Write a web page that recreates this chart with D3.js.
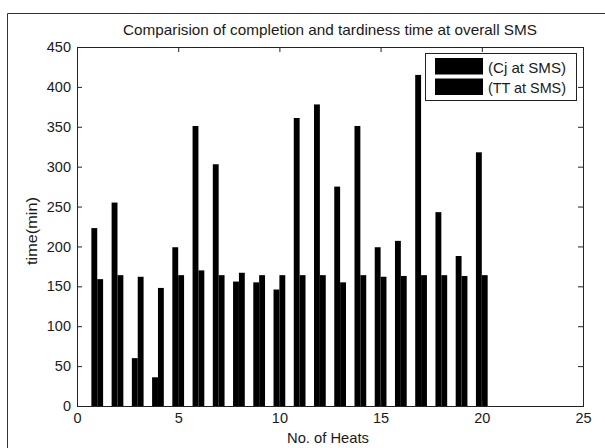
<!DOCTYPE html>
<html>
<head>
<meta charset="utf-8">
<script src="https://d3js.org/d3.v7.min.js"></script>
<style>
  body { margin: 0; background: #fff; }
  text { font-family: "Liberation Sans", Arial, sans-serif; fill: #1a1a1a; }
</style>
</head>
<body>
<div class="chart"></div>
<script>
// width, height
const w = 605;
const h = 448;

// plot box
const pLeft = 77, pRight = 583, pTop = 47, pBottom = 406;
const fs = "14.5px";

// data
const heats = [1, 2, 3, 4, 5, 6, 7, 8, 9, 10, 11, 12, 13, 14, 15, 16, 17, 18, 19, 20];
const cj = [223, 255, 60, 36, 199, 351, 303, 156, 155, 146, 361, 378, 275, 351, 199, 207, 415, 243, 188, 318];
const tt = [159, 164, 162, 148, 164, 170, 164, 167, 164, 164, 164, 164, 155, 164, 162, 163, 164, 164, 163, 164];
const xTicks = [0, 5, 10, 15, 20, 25];
const yTicks = [0, 50, 100, 150, 200, 250, 300, 350, 400, 450];
const seriesNames = ["(Cj at SMS)", "(TT at SMS)"];

const svg = d3.select(".chart").append("svg")
  .attr("width", w)
  .attr("height", h);

svg.append("rect").attr("width", w).attr("height", h).attr("fill", "#fff");

// outer frame (only top and left visible)
svg.append("path")
  .attr("d", `M7.5,${h} V13.5 H${w}`)
  .attr("fill", "none")
  .attr("stroke", "#333")
  .attr("stroke-width", 1);

const xScale = d3.scaleLinear().domain([0, 25]).range([pLeft, pRight]);
const yScale = d3.scaleLinear().domain([0, 450]).range([pBottom, pTop]);

const barW = 0.29;

// bars
svg.append("g").selectAll("rect.cj")
  .data(heats)
  .enter().append("rect")
  .attr("x", (d) => xScale(d - barW))
  .attr("y", (d, i) => yScale(cj[i]))
  .attr("width", (d) => xScale(d) - xScale(d - barW))
  .attr("height", (d, i) => yScale(0) - yScale(cj[i]))
  .attr("fill", "#000");

svg.append("g").selectAll("rect.tt")
  .data(heats)
  .enter().append("rect")
  .attr("x", (d) => xScale(d))
  .attr("y", (d, i) => yScale(tt[i]))
  .attr("width", (d) => xScale(d + barW) - xScale(d))
  .attr("height", (d, i) => yScale(0) - yScale(tt[i]))
  .attr("fill", "#000");

// axes, ticks inward on all four sides
const axisCol = "#222";
const tk = 5;
const xAxis = d3.axisBottom(xScale).tickValues(xTicks).tickSize(-tk).tickPadding(6.5).tickFormat(d3.format("d"));
const xAxisTop = d3.axisTop(xScale).tickValues(xTicks).tickSize(-tk).tickFormat("");
const yAxis = d3.axisLeft(yScale).tickValues(yTicks).tickSize(-tk).tickPadding(6).tickFormat(d3.format("d"));
const yAxisRight = d3.axisRight(yScale).tickValues(yTicks).tickSize(-tk).tickFormat("");

function styleAxis(g) {
  g.select(".domain").remove();
  g.selectAll("line").attr("stroke", axisCol);
  g.selectAll("text").style("font-size", fs).attr("fill", "#1a1a1a")
    .style("font-family", '"Liberation Sans", Arial, sans-serif');
}

svg.append("g").attr("transform", `translate(0,${pBottom})`).call(xAxis).call(styleAxis);
svg.append("g").attr("transform", `translate(0,${pTop})`).call(xAxisTop).call(styleAxis);
svg.append("g").attr("transform", `translate(${pLeft},0)`).call(yAxis).call(styleAxis);
svg.append("g").attr("transform", `translate(${pRight},0)`).call(yAxisRight).call(styleAxis);

svg.append("rect")
  .attr("x", pLeft + 0.5).attr("y", pTop + 0.5)
  .attr("width", pRight - pLeft).attr("height", pBottom - pTop)
  .attr("fill", "none").attr("stroke", axisCol);

// title and labels
svg.append("text")
  .attr("x", (pLeft + pRight) / 2).attr("y", 35)
  .attr("text-anchor", "middle")
  .attr("textLength", 414)
  .attr("lengthAdjust", "spacingAndGlyphs")
  .style("font-size", fs)
  .text("Comparision of completion and tardiness time at overall SMS");

svg.append("text")
  .attr("x", 328).attr("y", 443)
  .attr("text-anchor", "middle")
  .attr("textLength", 82)
  .attr("lengthAdjust", "spacingAndGlyphs")
  .style("font-size", fs)
  .text("No. of Heats");

svg.append("text")
  .attr("transform", "translate(37,231) rotate(-90)")
  .attr("text-anchor", "middle")
  .attr("textLength", 68)
  .attr("lengthAdjust", "spacingAndGlyphs")
  .style("font-size", fs)
  .text("time(min)");

// legend
const lg = svg.append("g").attr("transform", "translate(425,53)");
lg.append("rect")
  .attr("x", 0.5).attr("y", 0.5).attr("width", 151).attr("height", 47)
  .attr("fill", "#fff").attr("stroke", axisCol);
seriesNames.forEach((name, i) => {
  lg.append("rect")
    .attr("x", 10).attr("y", 5 + i * 20.5).attr("width", 48).attr("height", 16.5)
    .attr("fill", "#000");
  lg.append("text")
    .attr("x", 63).attr("y", 19.5 + i * 20)
    .attr("textLength", 78)
    .attr("lengthAdjust", "spacingAndGlyphs")
    .style("font-size", fs)
    .text(name);
});
</script>
</body>
</html>
